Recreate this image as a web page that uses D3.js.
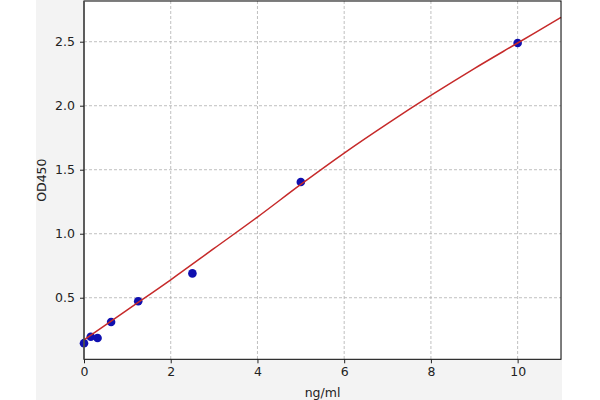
<!DOCTYPE html>
<html><head><meta charset="utf-8">
<script src="https://cdn.jsdelivr.net/npm/d3@7"></script>
<style>body{margin:0;background:#fff}svg{display:block}text{font-family:"DejaVu Sans",sans-serif;fill:#222}</style>
</head><body><svg id="c" width="600" height="400"></svg>
<script>
const concX = [0, 0.156, 0.3125, 0.625, 1.25, 2.5, 5, 10];
const odY = [0.145, 0.195, 0.185, 0.31, 0.472, 0.69, 1.404, 2.49];
const fitX = [0, 1, 2, 3, 4, 5, 6, 7, 8, 9, 10, 11];
const fitY = [0.17, 0.405, 0.64, 0.885, 1.13, 1.385, 1.63, 1.86, 2.08, 2.29, 2.49, 2.69];
const xTicks = [0, 2, 4, 6, 8, 10];
const yTicks = [0.5, 1.0, 1.5, 2.0, 2.5];

const svg = d3.select("#c");
const L = 84, R = 561, T = 1, B = 359.3;
svg.append("rect").attr("x", 36).attr("y", 0).attr("width", 526).attr("height", 400).attr("fill", "#f3f3f3");
svg.append("rect").attr("x", L).attr("y", T).attr("width", R - L).attr("height", B - T).attr("fill", "#fff");

const x = d3.scaleLinear().domain([0, 11]).range([L, R]);
const y = d3.scaleLinear().domain([0.019, 2.818]).range([B, T]);

const g = svg.append("g");
g.selectAll(".vg").data(xTicks.filter(d => d > 0)).join("line")
  .attr("x1", d => x(d)).attr("x2", d => x(d)).attr("y1", T).attr("y2", B)
  .attr("stroke", "#b0b0b0").attr("stroke-width", 0.8).attr("stroke-dasharray", "3,2");
g.selectAll(".hg").data(yTicks).join("line")
  .attr("x1", L).attr("x2", R).attr("y1", d => y(d)).attr("y2", d => y(d))
  .attr("stroke", "#b0b0b0").attr("stroke-width", 0.8).attr("stroke-dasharray", "3,2");

// points
svg.selectAll(".pt").data(concX).join("circle")
  .attr("cx", d => x(d)).attr("cy", (d, i) => y(odY[i])).attr("r", 4.3)
  .attr("fill", "#1010b0");

// fit line
const line = d3.line().x(d => x(d[0])).y(d => y(d[1])).curve(d3.curveCatmullRom);
svg.append("path").datum(fitX.map((d, i) => [d, fitY[i]])).attr("d", line)
  .attr("fill", "none").attr("stroke", "#c62a2a").attr("stroke-width", 1.5);

// frame
svg.append("rect").attr("x", L).attr("y", T).attr("width", R - L).attr("height", B - T)
  .attr("fill", "none").attr("stroke", "#000").attr("stroke-width", 1);
svg.append("line").attr("x1", L).attr("x2", L).attr("y1", T).attr("y2", B).attr("stroke", "#555").attr("stroke-width", 1.6);

const xa = svg.append("g").attr("transform", `translate(0,${B})`)
  .call(d3.axisBottom(x).tickValues(xTicks).tickFormat(d3.format("d")).tickSize(4).tickPadding(4));
const ya = svg.append("g").attr("transform", `translate(${L},0)`)
  .call(d3.axisLeft(y).tickValues(yTicks).tickFormat(d3.format(".1f")).tickSize(4).tickPadding(5));
[xa, ya].forEach(a => {
  a.select(".domain").remove();
  a.selectAll("text").style("font-family", "DejaVu Sans").style("font-size", "12.5px").attr("fill", "#222");
  a.selectAll("line").attr("stroke", "#222");
});

svg.append("text").attr("x", (L + R) / 2).attr("y", 397).attr("text-anchor", "middle")
  .style("font-size", "12.5px").text("ng/ml");
svg.append("text").attr("transform", `translate(46,${(T + B) / 2}) rotate(-90)`).attr("text-anchor", "middle")
  .style("font-size", "12.5px").text("OD450");
</script></body></html>
